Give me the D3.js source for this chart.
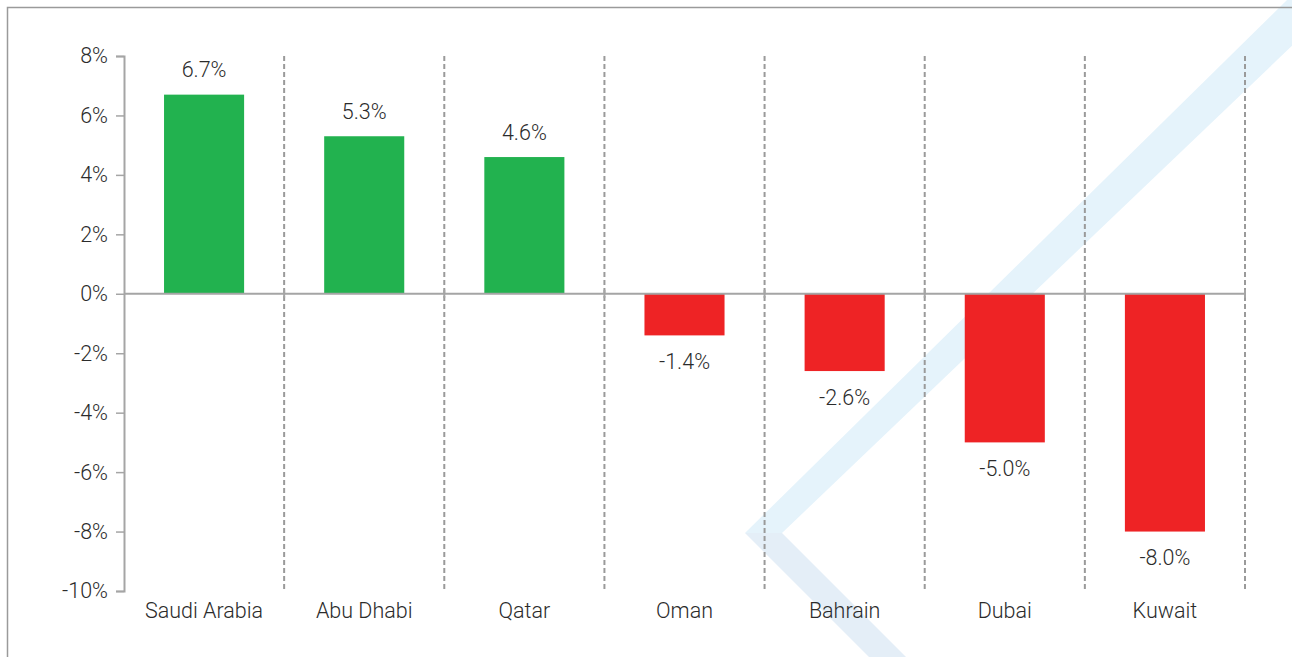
<!DOCTYPE html>
<html>
<head>
<meta charset="utf-8">
<script src="https://cdn.jsdelivr.net/npm/d3@7"></script>
<style>
  html, body { margin: 0; padding: 0; background: #fff; }
  svg { display: block; }
  text { font-family: Roboto, "Liberation Sans", Arial, sans-serif; font-weight: 300; fill: #2b2b2b; }
</style>
</head>
<body>
<svg id="chart" width="1292" height="657"></svg>
<script>
// chart data
const categories = ['Saudi Arabia', 'Abu Dhabi', 'Qatar', 'Oman', 'Bahrain', 'Dubai', 'Kuwait'];
const values = [6.7, 5.3, 4.6, -1.4, -2.6, -5.0, -8.0];
const yTicks = [8, 6, 4, 2, 0, -2, -4, -6, -8, -10];

const width = 1292, height = 657;
const plotLeft = 124, plotRight = 1245, plotTop = 56, plotBottom = 591;
const fontSize = 21.5;

const svg = d3.select('#chart');

// light blue chevron in the background
const wm = svg.append('g').attr('class', 'watermark');
wm.append('polygon')
    .attr('points', '745,533 1287,0 1340,0 782,533')
    .attr('fill', '#e5f3fb');
wm.append('polygon')
    .attr('points', '745,533 782,533 906,657 869,657')
    .attr('fill', '#e4eef7');

// frame
svg.append('path')
    .attr('d', 'M7.5,' + height + ' V7.5 H' + width)
    .attr('fill', 'none')
    .attr('stroke', '#9a9a9a')
    .attr('stroke-width', 1.5);

const x = d3.scaleBand()
    .domain(categories)
    .range([plotLeft, plotRight])
    .paddingInner(0.5)
    .paddingOuter(0.25);

const y = d3.scaleLinear()
    .domain([-10, 8])
    .range([plotBottom, plotTop]);

// dashed separators between categories
svg.append('g')
    .selectAll('line')
    .data(categories)
    .join('line')
    .attr('x1', (d, i) => plotLeft + x.step() * (i + 1))
    .attr('x2', (d, i) => plotLeft + x.step() * (i + 1))
    .attr('y1', plotTop)
    .attr('y2', plotBottom)
    .attr('stroke', '#9a9a9a')
    .attr('stroke-width', 2)
    .attr('stroke-dasharray', '5,3');

// y axis
const yAxis = svg.append('g')
    .attr('transform', 'translate(' + plotLeft + ',0)')
    .call(d3.axisLeft(y)
        .tickValues(yTicks)
        .tickSize(8)
        .tickPadding(8)
        .tickFormat(d => d + '%'));
yAxis.select('.domain').attr('stroke', '#a5a5a5').attr('stroke-width', 2);
yAxis.selectAll('.tick line').attr('stroke', '#a5a5a5').attr('stroke-width', 1.5);
yAxis.selectAll('.tick text')
    .attr('font-size', fontSize)
    .attr('font-family', 'Roboto, "Liberation Sans", Arial, sans-serif')
    .attr('fill', '#2b2b2b');

// bars
svg.append('g')
    .selectAll('rect')
    .data(values)
    .join('rect')
    .attr('x', (d, i) => x(categories[i]))
    .attr('width', x.bandwidth())
    .attr('y', d => y(Math.max(0, d)))
    .attr('height', d => Math.abs(y(d) - y(0)))
    .attr('fill', d => d >= 0 ? '#22b24f' : '#ee2325');

// zero line with small ticks at category boundaries
svg.append('line')
    .attr('x1', plotLeft)
    .attr('x2', plotRight)
    .attr('y1', y(0))
    .attr('y2', y(0))
    .attr('stroke', '#a5a5a5')
    .attr('stroke-width', 2);
svg.append('g')
    .selectAll('line')
    .data(categories)
    .join('line')
    .attr('x1', (d, i) => plotLeft + x.step() * (i + 1))
    .attr('x2', (d, i) => plotLeft + x.step() * (i + 1))
    .attr('y1', y(0) - 4)
    .attr('y2', y(0) + 4)
    .attr('stroke', '#a5a5a5')
    .attr('stroke-width', 2);

// value labels
svg.append('g')
    .selectAll('text')
    .data(values)
    .join('text')
    .attr('x', (d, i) => x(categories[i]) + x.bandwidth() / 2)
    .attr('y', d => d >= 0 ? y(d) - 25 : y(d) + 26)
    .attr('dy', '0.35em')
    .attr('text-anchor', 'middle')
    .attr('font-size', fontSize)
    .text(d => d.toFixed(1) + '%');

// category labels
svg.append('g')
    .selectAll('text')
    .data(categories)
    .join('text')
    .attr('x', d => x(d) + x.bandwidth() / 2)
    .attr('y', 610)
    .attr('dy', '0.35em')
    .attr('text-anchor', 'middle')
    .attr('font-size', fontSize)
    .text(d => d);
</script>
</body>
</html>
